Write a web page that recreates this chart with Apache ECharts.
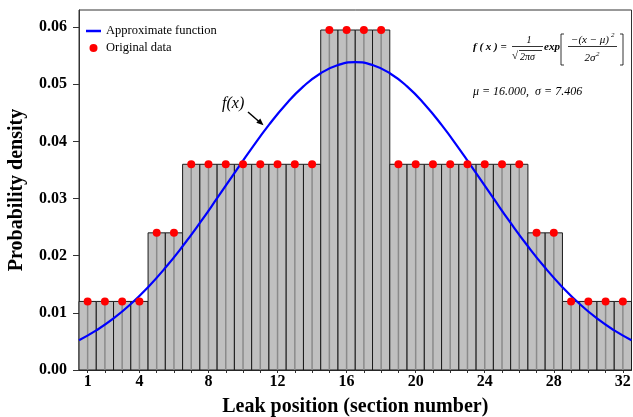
<!DOCTYPE html>
<html>
<head>
<meta charset="utf-8">
<script src="https://cdn.jsdelivr.net/npm/echarts@6/dist/echarts.min.js"></script>
<style>
html,body{margin:0;padding:0;background:#fff;}
#chart{width:633px;height:417px;}
</style>
</head>
<body>
<div id="chart"></div>
<script>
// ---- data ----
const sections = [1,2,3,4,5,6,7,8,9,10,11,12,13,14,15,16,17,18,19,20,21,22,23,24,25,26,27,28,29,30,31,32];
const density = [0.012,0.012,0.012,0.012,0.024,0.024,
  0.036,0.036,0.036,0.036,0.036,0.036,0.036,0.036,
  0.0595,0.0595,0.0595,0.0595,
  0.036,0.036,0.036,0.036,0.036,0.036,0.036,0.036,
  0.024,0.024,0.012,0.012,0.012,0.012];
const curveX = [0.5,1.5,2.5,3.5,4.5,5.5,6.5,7.5,8.5,9.5,10.5,11.5,12.5,13.5,14.5,15.5,16.5,
  17.5,18.5,19.5,20.5,21.5,22.5,23.5,24.5,25.5,26.5,27.5,28.5,29.5,30.5,31.5,32.5];
const curveY = [0.00522,0.00693,0.00902,0.01154,0.01450,0.01788,0.02165,0.02574,0.03006,0.03446,
  0.03880,0.04289,0.04656,0.04963,0.05194,0.05338,0.05387,
  0.05338,0.05194,0.04963,0.04656,0.04289,0.03880,0.03446,0.03006,0.02574,0.02165,0.01788,
  0.01450,0.01154,0.00902,0.00693,0.00522];
const yTicks = [0,0.01,0.02,0.03,0.04,0.05,0.06];
const xLabelTicks = [1,4,8,12,16,20,24,28,32];

const serif = "'Liberation Serif','Times New Roman',serif";
const chart = echarts.init(document.getElementById('chart'), null, {renderer:'canvas'});

const barData = sections.map((s,i)=>[s, density[i]]);
const curveData = curveX.map((x,i)=>[x, curveY[i]]);

const option = {
  animation:false,
  backgroundColor:'#fff',
  grid:{left:79, right:1.5, top:10, bottom:47, show:true, borderColor:'#333', borderWidth:1,
        backgroundColor:'transparent', containLabel:false, outerBoundsMode:'none'},
  legend:{
    orient:'vertical', left:86, top:24, padding:0, itemWidth:15, itemHeight:8, itemGap:3,
    textStyle:{fontFamily:serif, fontSize:12.5, color:'#000', lineHeight:14},
    data:[{name:'Approximate function', icon:'path://M0,0H15V2.5H0Z'},{name:'Original data', icon:'circle'}]
  },
  xAxis:{
    type:'value', min:0.5, max:32.5,
    name:'Leak position (section number)', nameLocation:'middle', nameGap:27,
    nameTextStyle:{fontFamily:serif, fontSize:20, fontWeight:'bold', color:'#000'},
    axisLine:{show:true, lineStyle:{color:'#333', width:1}},
    axisTick:{show:true, length:3, customValues:sections, lineStyle:{color:'#333'}},
    axisLabel:{customValues:xLabelTicks, fontFamily:serif, fontSize:16, fontWeight:'bold', color:'#000', margin:4},
    splitLine:{show:false}
  },
  yAxis:{
    type:'value', min:0, max:0.063,
    name:'Probability density', nameLocation:'middle', nameGap:52,
    nameTextStyle:{fontFamily:serif, fontSize:20, fontWeight:'bold', color:'#000'},
    axisLine:{show:true, lineStyle:{color:'#333', width:1}},
    axisTick:{show:true, length:6, customValues:yTicks, lineStyle:{color:'#333'}},
    axisLabel:{customValues:yTicks, formatter:v=>v.toFixed(2), fontFamily:serif, fontSize:16, fontWeight:'bold', color:'#000', margin:12},
    splitLine:{show:false}
  },
  series:[
    {
      type:'custom', name:'bars', z:2,
      encode:{x:0, y:1},
      data:barData,
      renderItem:function(params, api){
        const x = api.value(0), y = api.value(1);
        const p0 = api.coord([x-0.5, y]);
        const p1 = api.coord([x+0.5, 0]);
        const c = api.coord([x, y]);
        const b = api.coord([x, 0]);
        return {type:'group', children:[
          {type:'rect', shape:{x:p0[0], y:p0[1], width:p1[0]-p0[0], height:p1[1]-p0[1]},
            style:{fill:'#c0c0c0', stroke:'#1a1a1a', lineWidth:1}},
          {type:'line', shape:{x1:c[0], y1:c[1], x2:b[0], y2:b[1]},
            style:{stroke:'#8a8a8a', lineWidth:1.5}}
        ]};
      }
    },
    {
      type:'line', name:'Approximate function', z:4,
      data:curveData, smooth:true, symbol:'none', showSymbol:false,
      lineStyle:{color:'#0000ff', width:2.2}, itemStyle:{color:'#0000ff'}
    },
    {
      type:'scatter', name:'Original data', z:5,
      data:barData, symbol:'circle', symbolSize:8,
      itemStyle:{color:'#ff0000', opacity:1}
    }
  ],
  graphic:[
    // f(x) label + arrow
    {type:'text', left:222, top:96, style:{text:'f(x)', font:"italic 16px "+serif, fill:'#000'}},
    {type:'line', shape:{x1:248, y1:112, x2:259.5, y2:122}, style:{stroke:'#000', lineWidth:1.5}},
    {type:'polygon', shape:{points:[[263.5,125.2],[256.3,122.8],[260.3,118.4]]}, style:{fill:'#000'}},
    // formula
    {type:'text', x:473, y:47, style:{text:'f ( x ) =', font:"italic bold 11px "+serif, fill:'#000', textVerticalAlign:'middle'}},
    {type:'text', x:529, y:40, style:{text:'1', font:"italic 10px "+serif, fill:'#000', textAlign:'center', textVerticalAlign:'middle'}},
    {type:'line', shape:{x1:512, y1:46.5, x2:543, y2:46.5}, style:{stroke:'#000', lineWidth:0.8}},
    {type:'text', x:512, y:56, style:{text:'√', font:"11px "+serif, fill:'#000', textVerticalAlign:'middle'}},
    {type:'line', shape:{x1:519, y1:50.5, x2:542, y2:50.5}, style:{stroke:'#000', lineWidth:0.8}},
    {type:'text', x:520, y:57, style:{text:'2πσ', font:"italic 10px "+serif, fill:'#000', textVerticalAlign:'middle'}},
    {type:'text', x:544, y:47, style:{text:'exp', font:"italic bold 11px "+serif, fill:'#000', textVerticalAlign:'middle'}},
    {type:'polyline', shape:{points:[[564,34],[561,34],[561,65],[564,65]]}, style:{stroke:'#000', lineWidth:0.8, fill:null}},
    {type:'polyline', shape:{points:[[620,34],[623,34],[623,65],[620,65]]}, style:{stroke:'#000', lineWidth:0.8, fill:null}},
    {type:'text', x:590, y:40, style:{text:'−(x − μ)', font:"italic 11px "+serif, fill:'#000', textAlign:'center', textVerticalAlign:'middle'}},
    {type:'text', x:611, y:35, style:{text:'2', font:"italic 7px "+serif, fill:'#000', textVerticalAlign:'middle'}},
    {type:'line', shape:{x1:568, y1:46.5, x2:617, y2:46.5}, style:{stroke:'#000', lineWidth:0.8}},
    {type:'text', x:590, y:58, style:{text:'2σ', font:"italic 11px "+serif, fill:'#000', textAlign:'center', textVerticalAlign:'middle'}},
    {type:'text', x:596, y:54, style:{text:'2', font:"italic 7px "+serif, fill:'#000', textVerticalAlign:'middle'}},
    {type:'text', x:473, y:92, style:{text:'μ = 16.000,  σ = 7.406', font:"italic 12px "+serif, fill:'#000', textVerticalAlign:'middle'}}
  ]
};
chart.setOption(option);
</script>
</body>
</html>
